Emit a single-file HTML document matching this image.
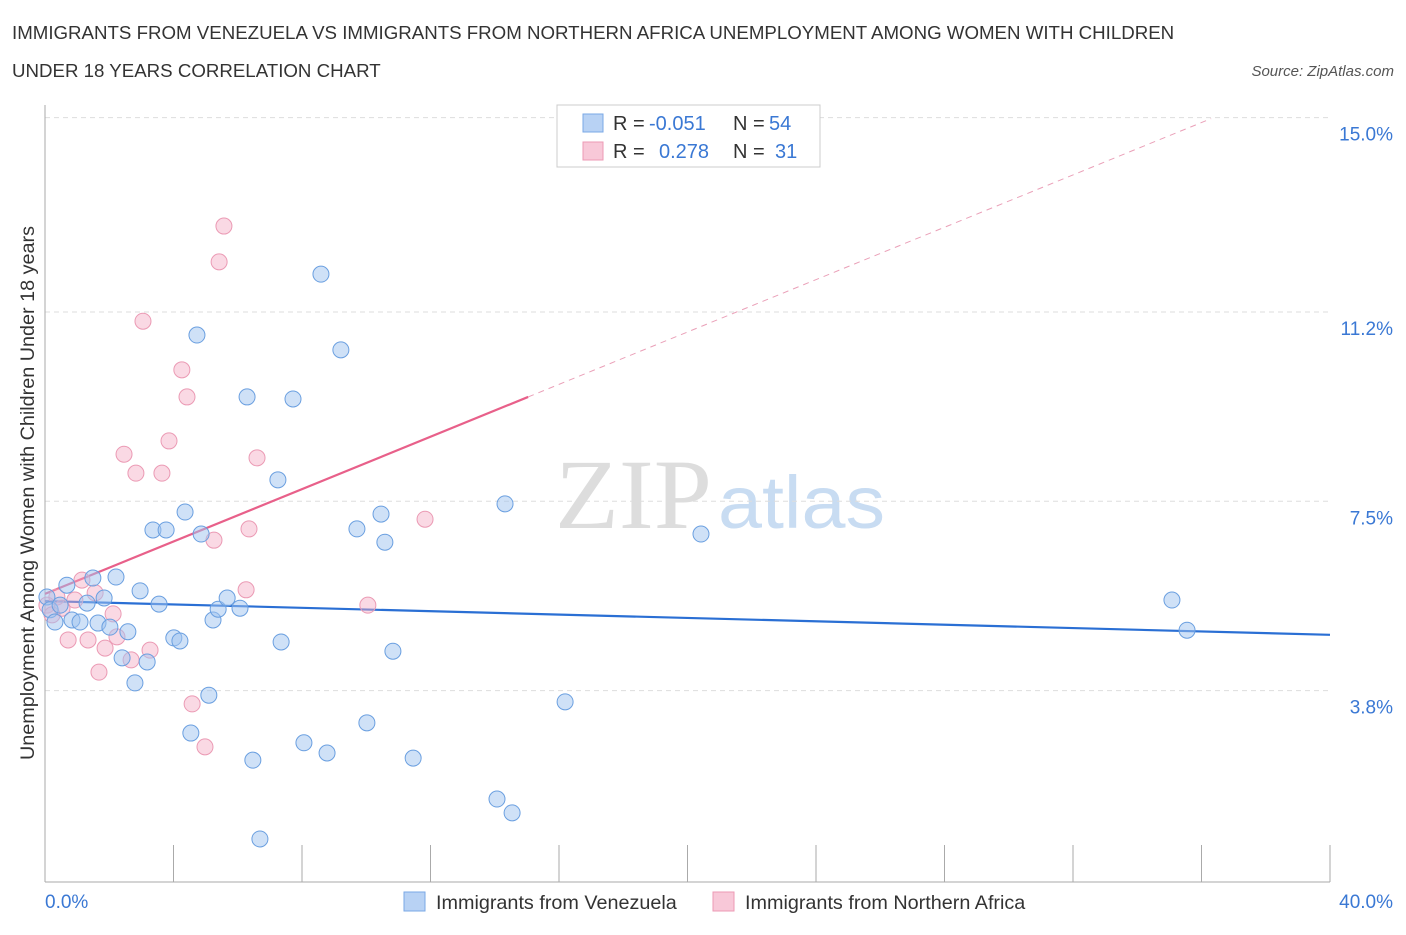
<!DOCTYPE html>
<html><head><meta charset="utf-8"><style>
body{margin:0;background:#fff;font-family:"Liberation Sans",sans-serif;}
</style></head><body>
<svg id="chart" width="1406" height="930" xmlns="http://www.w3.org/2000/svg">
<text x="12" y="39" font-size="18.7" fill="#333">IMMIGRANTS FROM VENEZUELA VS IMMIGRANTS FROM NORTHERN AFRICA UNEMPLOYMENT AMONG WOMEN WITH CHILDREN</text>
<text x="12" y="77" font-size="18.7" fill="#333">UNDER 18 YEARS CORRELATION CHART</text>
<text x="1394" y="76" font-size="15" fill="#555" font-style="italic" text-anchor="end">Source: ZipAtlas.com</text>
<text x="555" y="528" font-size="100" fill="#ddd" font-family="Liberation Serif,serif" textLength="157" lengthAdjust="spacingAndGlyphs">ZIP</text>
<text x="718" y="528" font-size="74" fill="#c8dcf2" textLength="167" lengthAdjust="spacingAndGlyphs">atlas</text>
<g id="grid"></g><g id="axes"></g><g id="lines"></g><g id="pts"></g>
<text transform="translate(34,493) rotate(-90)" font-size="19.5" fill="#333" text-anchor="middle" textLength="534" lengthAdjust="spacingAndGlyphs">Unemployment Among Women with Children Under 18 years</text>
<text x="45" y="908" font-size="19" fill="#3a78d4">0.0%</text>
<text x="1393" y="908" font-size="19" fill="#3a78d4" text-anchor="end">40.0%</text>
<g>
<rect x="557" y="105" width="263" height="62" fill="#fff" stroke="#ccc"/>
<rect x="583" y="114" width="20" height="18" fill="#b8d2f4" stroke="#7aa8e6"/>
<text x="613" y="130" font-size="20" fill="#333">R =</text>
<text x="649" y="130" font-size="20" fill="#3a78d4">-0.051</text>
<text x="733" y="130" font-size="20" fill="#333">N =</text>
<text x="769" y="130" font-size="20" fill="#3a78d4">54</text>
<rect x="583" y="142" width="20" height="18" fill="#f8c8d8" stroke="#ec9ab4"/>
<text x="613" y="158" font-size="20" fill="#333">R =</text>
<text x="659" y="158" font-size="20" fill="#3a78d4">0.278</text>
<text x="733" y="158" font-size="20" fill="#333">N =</text>
<text x="775" y="158" font-size="20" fill="#3a78d4">31</text>
</g>
<g>
<rect x="404" y="892" width="21" height="19" fill="#b8d2f4" stroke="#7aa8e6"/>
<text x="436" y="909" font-size="19.8" fill="#333">Immigrants from Venezuela</text>
<rect x="713" y="892" width="21" height="19" fill="#f8c8d8" stroke="#ec9ab4"/>
<text x="745" y="909" font-size="19.8" fill="#333">Immigrants from Northern Africa</text>
</g>
</svg>
<script>
const yTicks=[15.0,11.2,7.5,3.8];
const yTickLabels=["15.0%","11.2%","7.5%","3.8%"];
const xTicks=[0,4,8,12,16,20,24,28,32,36,40];
const blueX=[0.06,0.16,0.31,0.47,0.68,0.84,1.09,1.31,1.49,1.65,1.84,2.02,2.21,2.40,2.58,2.80,2.96,3.18,3.36,3.55,3.77,4.01,4.20,4.36,4.73,4.86,5.10,5.23,5.39,4.54,5.67,6.07,6.29,6.47,6.69,7.25,7.35,7.72,8.06,8.59,8.78,9.21,9.71,10.02,10.46,10.58,10.83,11.46,14.07,14.32,14.54,16.19,20.42,35.08,35.55];
const blueY=[5.63,5.38,5.14,5.47,5.86,5.18,5.14,5.51,6.00,5.12,5.61,5.04,6.02,4.44,4.95,3.95,5.75,4.36,6.94,5.49,6.94,4.83,4.77,7.29,10.75,6.86,3.71,5.18,5.39,2.97,5.61,5.41,9.54,2.44,0.90,7.92,4.75,9.50,2.78,11.94,2.58,10.46,6.96,3.17,7.25,6.70,4.57,2.48,1.68,7.45,1.41,3.58,6.86,5.57,4.98];
const pinkX=[0.06,0.22,0.37,0.53,0.72,0.93,1.15,1.34,1.56,1.68,1.87,2.12,2.24,2.46,2.68,2.83,3.05,3.27,3.64,3.86,4.26,4.42,4.58,4.98,5.26,5.42,5.57,6.26,6.35,6.60,10.05,11.83];
const pinkY=[5.47,5.28,5.63,5.41,4.79,5.57,5.96,4.79,5.71,4.16,4.63,5.30,4.85,8.42,4.40,8.05,11.02,4.59,8.05,8.68,10.07,9.54,3.54,2.70,6.74,12.18,12.88,5.77,6.96,8.35,5.47,7.15];
const blueTrend=[[0,5.55],[40,4.89]];
const pinkTrend=[[0,5.69],[15.04,9.54],[36.3,14.98]];
const NS="http://www.w3.org/2000/svg";
const sx=v=>45+v*32.125, sy=v=>885-v*51.16;
function mk(t,a,p){const e=document.createElementNS(NS,t);for(const k in a)e.setAttribute(k,a[k]);document.getElementById(p).appendChild(e);return e;}
yTicks.forEach((t,i)=>{
 const g=mk('line',{x1:45,x2:1330,y1:sy(t),y2:sy(t),stroke:'#ddd','stroke-dasharray':'5,4'},'grid');
 
 
 const l=mk('text',{x:1393,y:sy(t)+23,'font-size':19,fill:'#3a78d4','text-anchor':'end','font-family':'Liberation Sans,sans-serif'},'axes');
 l.textContent=yTickLabels[i];
 
 
});
let a=mk('line',{x1:45,x2:45,y1:105,y2:882,stroke:'#aaa'},'axes');


a=mk('line',{x1:45,x2:1330,y1:882,y2:882,stroke:'#aaa'},'axes');


xTicks.forEach(t=>{
 const k=mk('line',{x1:sx(t),x2:sx(t),y1:845,y2:882,stroke:'#aaa'},'axes');
 
 
});
let ln=mk('line',{x1:sx(blueTrend[0][0]),y1:sy(blueTrend[0][1]),x2:sx(blueTrend[1][0]),y2:sy(blueTrend[1][1]),stroke:'#2a6fd4','stroke-width':2.2},'lines');


ln=mk('line',{x1:sx(pinkTrend[0][0]),y1:sy(pinkTrend[0][1]),x2:sx(pinkTrend[1][0]),y2:sy(pinkTrend[1][1]),stroke:'#e8608a','stroke-width':2.2},'lines');


ln=mk('line',{x1:sx(pinkTrend[1][0]),y1:sy(pinkTrend[1][1]),x2:sx(pinkTrend[2][0]),y2:sy(pinkTrend[2][1]),stroke:'#eaa0b8','stroke-width':1,'stroke-dasharray':'6,5'},'lines');


pinkX.forEach((x,i)=>{
 const c=mk('circle',{cx:sx(x),cy:sy(pinkY[i]),r:8,fill:'rgba(245,170,195,0.45)',stroke:'#eb9ab4','stroke-width':1},'pts');
 
 
});
blueX.forEach((x,i)=>{
 const c=mk('circle',{cx:sx(x),cy:sy(blueY[i]),r:8,fill:'rgba(160,195,240,0.5)',stroke:'#6a9fe0','stroke-width':1},'pts');
 
 
});
</script>
</body></html>
